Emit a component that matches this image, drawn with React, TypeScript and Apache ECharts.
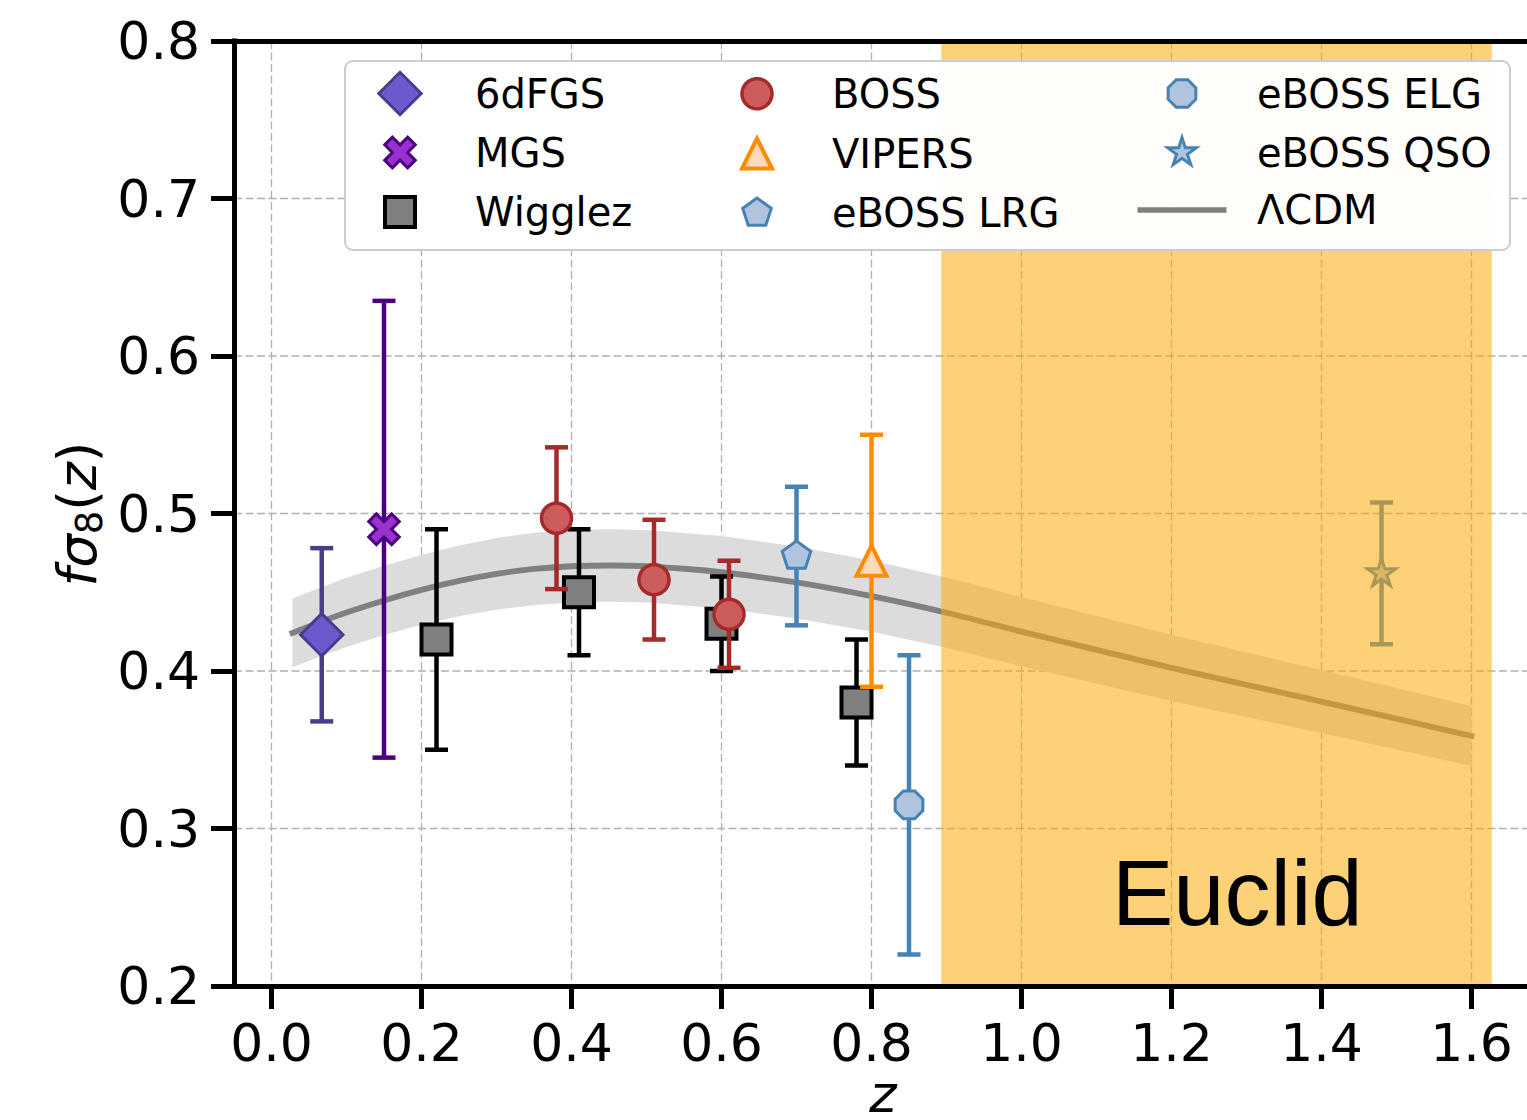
import React, { useEffect, useRef } from 'react';
import * as echarts from 'echarts';

// ---- axes ----
const xRange = [-0.05, 1.7];
const yRange = [0.2, 0.8];
const xTicks = [0, 0.2, 0.4, 0.6, 0.8, 1.0, 1.2, 1.4, 1.6];
const yGrid = [0.3, 0.4, 0.5, 0.6, 0.7];

// ---- survey data (z, f sigma8, error) ----
const sixdfZ = [0.067];
const sixdfF = [0.423];
const sixdfErr = [0.055];

const mgsZ = [0.15];
const mgsF = [0.49];
const mgsErr = [0.145];

const wiggleZ = [0.22, 0.41, 0.6, 0.78];
const wiggleF = [0.42, 0.45, 0.43, 0.38];
const wiggleErr = [0.07, 0.04, 0.03, 0.04];

const bossZ = [0.38, 0.51, 0.61];
const bossF = [0.497, 0.458, 0.436];
const bossErr = [0.045, 0.038, 0.034];

const vipersZ = [0.8];
const vipersF = [0.47];
const vipersErr = [0.08];

const lrgZ = [0.7];
const lrgF = [0.473];
const lrgErr = [0.044];

const elgZ = [0.85];
const elgF = [0.315];
const elgErr = [0.095];

const qsoZ = [1.48];
const qsoF = [0.462];
const qsoErr = [0.045];

// ---- LCDM prediction and its band ----
const lcdmZ = [0.028, 0.07, 0.1, 0.15, 0.2, 0.25, 0.3, 0.35, 0.4, 0.45, 0.5, 0.6, 0.7, 0.8, 0.9, 1.0, 1.2, 1.4, 1.6];
const lcdmF = [0.4242, 0.432, 0.4372, 0.4448, 0.4515, 0.4572, 0.4617, 0.4648, 0.4665, 0.467, 0.4665, 0.4627, 0.4562, 0.4475, 0.437, 0.425, 0.402, 0.3806, 0.3587];
const lcdmHi = [0.446, 0.4538, 0.4592, 0.4668, 0.4737, 0.4797, 0.4845, 0.4878, 0.4895, 0.49, 0.4895, 0.4857, 0.479, 0.4701, 0.4593, 0.447, 0.423, 0.4006, 0.3777];
const lcdmLo = [0.4024, 0.4102, 0.4152, 0.4228, 0.4293, 0.4347, 0.4389, 0.4418, 0.4435, 0.444, 0.4435, 0.4397, 0.4334, 0.4249, 0.4147, 0.403, 0.381, 0.3606, 0.3397];

// ---- Euclid range ----
const euclidBand = [0.893, 1.627];

// ---- marker shapes (100-unit frame, padded so all markers share scale) ----
function polyPath(pts: number[][]) {
  return 'path://M0 0 M100 100 M' + pts.map((p) => p[0].toFixed(2) + ' ' + p[1].toFixed(2)).join(' L') + ' Z';
}
function regular(n: number, r: number, startDeg: number) {
  const pts: number[][] = [];
  for (let k = 0; k < n; k++) {
    const a = ((startDeg + (k * 360) / n) * Math.PI) / 180;
    pts.push([50 + r * Math.cos(a), 50 - r * Math.sin(a)]);
  }
  return pts;
}
function starPts(rOut: number, rIn: number) {
  const pts: number[][] = [];
  for (let k = 0; k < 10; k++) {
    const a = ((90 + k * 36) * Math.PI) / 180;
    const r = k % 2 === 0 ? rOut : rIn;
    pts.push([50 + r * Math.cos(a), 50 - r * Math.sin(a)]);
  }
  return pts;
}
function xPts(s: number) {
  const base = [[-1, -3], [-1, -1], [-3, -1], [-3, 1], [-1, 1], [-1, 3], [1, 3], [1, 1], [3, 1], [3, -1], [1, -1], [1, -3]];
  const k = s / 6;
  return base.map(([x, y]) => [50 + ((x - y) / Math.SQRT2) * k, 50 + ((x + y) / Math.SQRT2) * k]);
}
const M = 60;
const DIAMOND = polyPath(regular(4, M * 0.707, 90));
const XMARK = polyPath(xPts(M * 1.08));
const SQUARE = polyPath(regular(4, (M / 2) * Math.SQRT2, 45));
const CIRCLE = polyPath(regular(64, M / 2, 0));
const TRIANGLE = polyPath([[50, 50 - M / 2], [50 + M / 2, 50 + M / 2], [50 - M / 2, 50 + M / 2]]);
const PENTAGON = polyPath(regular(5, M / 2, 90));
const OCTAGON = polyPath(regular(8, M / 2, 22.5));
const STAR = polyPath(starPts(M / 2, (M / 2) * 0.381966));
const LINEICON = 'path://M0 0 M280 100 M51 44.5 L229 44.5 L229 55.5 L51 55.5 Z';

const FONT = 'DejaVu Sans';

function scatter(name: string, zs: number[], fs: number[], symbol: string, fill: string, edge: string, bw: number, z: number) {
  return {
    type: 'scatter',
    name,
    data: zs.map((v, i) => [v, fs[i]]),
    symbol,
    symbolSize: 50,
    symbolKeepAspect: true,
    itemStyle: { color: fill, borderColor: edge, borderWidth: bw, opacity: 1 },
    emphasis: { disabled: true },
    silent: true,
    z,
  };
}

function errbars(zs: number[], fs: number[], errs: number[], color: string, z: number) {
  return {
    type: 'custom',
    data: zs.map((v, i) => [v, fs[i] - errs[i], fs[i] + errs[i]]),
    silent: true,
    z,
    renderItem: (_p: any, api: any) => {
      const x = api.value(0);
      const a = api.coord([x, api.value(2)]);
      const b = api.coord([x, api.value(1)]);
      const cw = 11.5;
      const st = { stroke: color, lineWidth: 4.5, fill: null };
      return {
        type: 'group',
        children: [
          { type: 'line', shape: { x1: a[0], y1: a[1], x2: b[0], y2: b[1] }, style: st },
          { type: 'line', shape: { x1: a[0] - cw, y1: a[1], x2: a[0] + cw, y2: a[1] }, style: st },
          { type: 'line', shape: { x1: b[0] - cw, y1: b[1], x2: b[0] + cw, y2: b[1] }, style: st },
        ],
      };
    },
  };
}

const legendText = { fontFamily: FONT, fontSize: 40, color: '#000' };
function legendCol(left: number, items: any[]) {
  return {
    orient: 'vertical',
    left,
    top: 67,
    padding: 0,
    itemWidth: 140,
    itemHeight: 50,
    itemGap: 6,
    selectedMode: false,
    textStyle: legendText,
    z: 60,
    data: items,
  };
}

export default function App() {
  const ref = useRef<HTMLDivElement>(null);
  useEffect(() => {
    document.body.style.margin = '0';
    const chart = echarts.init(ref.current!, null, { renderer: 'svg' });
    const option: any = {
      animation: false,
      backgroundColor: '#ffffff',
      grid: { left: 234, top: 41, width: 1312.5, height: 945, show: false, outerBoundsMode: 'none' },
      xAxis: [
        {
          type: 'value',
          min: xRange[0],
          max: xRange[1],
          interval: 0.05,
          z: 50,
          axisLine: { show: true, onZero: false, lineStyle: { color: '#000', width: 5, cap: 'square' } },
          axisTick: { show: false },
          splitLine: { show: false },
          axisLabel: {
            margin: 31,
            fontSize: 52,
            fontFamily: FONT,
            color: '#000',
            formatter: (v: number) => {
              const k = v * 5;
              return Math.abs(k - Math.round(k)) < 1e-6 && v > -0.01 && v < 1.65 ? v.toFixed(1) : '';
            },
          },
        },
        {
          type: 'value',
          position: 'top',
          min: xRange[0],
          max: xRange[1],
          z: 50,
          axisLine: { show: true, onZero: false, lineStyle: { color: '#000', width: 5, cap: 'square' } },
          axisTick: { show: false },
          axisLabel: { show: false },
          splitLine: { show: false },
        },
      ],
      yAxis: {
        type: 'value',
        min: yRange[0],
        max: yRange[1],
        interval: 0.1,
        z: 50,
        axisLine: { show: true, onZero: false, lineStyle: { color: '#000', width: 5, cap: 'square' } },
        axisTick: { show: true, inside: false, length: 23, lineStyle: { color: '#000', width: 5 } },
        splitLine: { show: false },
        axisLabel: {
          margin: 34,
          fontSize: 52,
          fontFamily: FONT,
          color: '#000',
          formatter: (v: number) => v.toFixed(1),
        },
      },
      legend: [
        legendCol(373, [
          { name: '6dFGS', icon: DIAMOND, itemStyle: { borderWidth: 3 } },
          { name: 'MGS', icon: XMARK, itemStyle: { borderWidth: 3 } },
          { name: 'Wigglez', icon: SQUARE, itemStyle: { borderWidth: 4 } },
        ]),
        legendCol(730, [
          { name: 'BOSS', icon: CIRCLE, itemStyle: { borderWidth: 3.5 } },
          { name: 'VIPERS', icon: TRIANGLE, itemStyle: { borderWidth: 4 } },
          { name: 'eBOSS LRG', icon: PENTAGON, itemStyle: { borderWidth: 3 } },
        ]),
        legendCol(1112, [
          { name: 'eBOSS ELG', icon: OCTAGON, itemStyle: { borderWidth: 3 } },
          { name: 'eBOSS QSO', icon: STAR, itemStyle: { borderWidth: 3 } },
          { name: 'ΛCDM', icon: LINEICON, itemStyle: { color: '#808080', borderWidth: 0 } },
        ]),
      ],
      graphic: [
        {
          type: 'rect',
          z: 55,
          shape: { x: 345, y: 61, width: 1165, height: 189, r: 8 },
          style: { fill: 'rgba(255,255,255,0.97)', stroke: '#cccccc', lineWidth: 2 },
        },
        {
          type: 'text',
          z: 100,
          x: 1112,
          y: 893,
          style: { text: 'Euclid', fontFamily: 'Liberation Sans', fontSize: 92, fill: '#000', align: 'left', verticalAlign: 'middle' },
        },
        {
          type: 'text',
          z: 100,
          x: 77,
          y: 514,
          rotation: Math.PI / 2,
          style: {
            text: '{i|f}{i|σ}{s|8}{n|(}{i|z}{n|)}',
            align: 'center',
            verticalAlign: 'middle',
            fill: '#000',
            rich: {
              i: { fontFamily: FONT, fontStyle: 'italic', fontSize: 53, lineHeight: 62, verticalAlign: 'middle', fill: '#000' },
              n: { fontFamily: FONT, fontSize: 53, lineHeight: 62, verticalAlign: 'middle', fill: '#000' },
              s: { fontFamily: FONT, fontSize: 37, lineHeight: 29, verticalAlign: 'bottom', fill: '#000' },
            },
          },
        },
        {
          type: 'text',
          z: 100,
          x: 883,
          y: 1094,
          style: { text: 'z', fontFamily: FONT, fontStyle: 'italic', fontSize: 52, lineHeight: 40, fill: '#000', align: 'center', verticalAlign: 'middle' },
        },
      ],
      series: [
        // vertical grid lines
        {
          type: 'custom',
          silent: true,
          z: 1,
          data: xTicks.map((v) => [v]),
          renderItem: (_p: any, api: any) => {
            const v = api.value(0);
            const t = api.coord([v, yRange[1]]);
            const b = api.coord([v, yRange[0]]);
            return { type: 'line', shape: { x1: t[0], y1: t[1], x2: b[0], y2: b[1] }, style: { stroke: '#b0b0b0', lineWidth: 1.3, lineDash: [8, 3.5] } };
          },
        },
        // horizontal grid lines
        {
          type: 'custom',
          silent: true,
          z: 1,
          data: yGrid.map((v) => [0, v]),
          renderItem: (_p: any, api: any) => {
            const v = api.value(1);
            const l = api.coord([xRange[0], v]);
            const r = api.coord([xRange[1], v]);
            return { type: 'line', shape: { x1: l[0], y1: l[1], x2: r[0], y2: r[1] }, style: { stroke: '#b0b0b0', lineWidth: 1.3, lineDash: [8, 3.5] } };
          },
        },
        // x ticks
        {
          type: 'custom',
          silent: true,
          z: 51,
          data: xTicks.map((v) => [v]),
          renderItem: (_p: any, api: any) => {
            const b = api.coord([api.value(0), yRange[0]]);
            return { type: 'line', shape: { x1: b[0], y1: b[1], x2: b[0], y2: b[1] + 23 }, style: { stroke: '#000', lineWidth: 5 } };
          },
        },
        // LCDM band
        {
          type: 'custom',
          silent: true,
          z: 2,
          data: [[lcdmZ[0], lcdmF[0]]],
          renderItem: (_p: any, api: any) => {
            const up = lcdmZ.map((v, i) => api.coord([v, lcdmHi[i]]));
            const lo = lcdmZ.map((v, i) => api.coord([v, lcdmLo[i]])).reverse();
            return { type: 'polygon', shape: { points: up.concat(lo) }, style: { fill: '#dcdcdc' } };
          },
        },
        // LCDM line
        {
          type: 'line',
          name: 'ΛCDM',
          data: lcdmZ.map((v, i) => [v, lcdmF[i]]),
          showSymbol: false,
          symbol: 'none',
          smooth: 0.3,
          silent: true,
          z: 3,
          itemStyle: { color: '#808080' },
          lineStyle: { color: '#808080', width: 5.8, cap: 'square' },
        },
        errbars(sixdfZ, sixdfF, sixdfErr, '#483D8B', 4),
        scatter('6dFGS', sixdfZ, sixdfF, DIAMOND, '#6A5ACD', '#483D8B', 3, 5),
        errbars(mgsZ, mgsF, mgsErr, '#4B0082', 6),
        scatter('MGS', mgsZ, mgsF, XMARK, '#9932CC', '#4B0082', 3, 7),
        errbars(wiggleZ, wiggleF, wiggleErr, '#000000', 8),
        scatter('Wigglez', wiggleZ, wiggleF, SQUARE, '#808080', '#000000', 4, 9),
        errbars(bossZ, bossF, bossErr, '#A52A2A', 10),
        scatter('BOSS', bossZ, bossF, CIRCLE, '#CD5C5C', '#A52A2A', 3.5, 11),
        errbars(vipersZ, vipersF, vipersErr, '#FF8C00', 12),
        scatter('VIPERS', vipersZ, vipersF, TRIANGLE, '#FFDAB9', '#FF8C00', 4, 13),
        errbars(lrgZ, lrgF, lrgErr, '#4682B4', 14),
        scatter('eBOSS LRG', lrgZ, lrgF, PENTAGON, '#B0C4DE', '#4682B4', 3, 15),
        errbars(elgZ, elgF, elgErr, '#4682B4', 16),
        scatter('eBOSS ELG', elgZ, elgF, OCTAGON, '#B0C4DE', '#4682B4', 3, 17),
        errbars(qsoZ, qsoF, qsoErr, '#4682B4', 18),
        scatter('eBOSS QSO', qsoZ, qsoF, STAR, '#B0C4DE', '#4682B4', 3, 19),
        // Euclid band
        {
          type: 'custom',
          silent: true,
          z: 30,
          data: [[euclidBand[0], euclidBand[1]]],
          renderItem: (_p: any, api: any) => {
            const a = api.coord([api.value(0), yRange[1]]);
            const b = api.coord([api.value(1), yRange[0]]);
            return { type: 'rect', shape: { x: a[0], y: a[1], width: b[0] - a[0], height: b[1] - a[1] }, style: { fill: 'rgba(251,172,8,0.55)' } };
          },
        },
      ],
    };
    chart.setOption(option);
    return () => chart.dispose();
  }, []);
  return (
    <div style={{ position: 'fixed', left: 0, top: 0, width: 1527, height: 1120, overflow: 'hidden', background: '#fff' }}>
      <div ref={ref} style={{ width: 1600, height: 1120 }} />
    </div>
  );
}
